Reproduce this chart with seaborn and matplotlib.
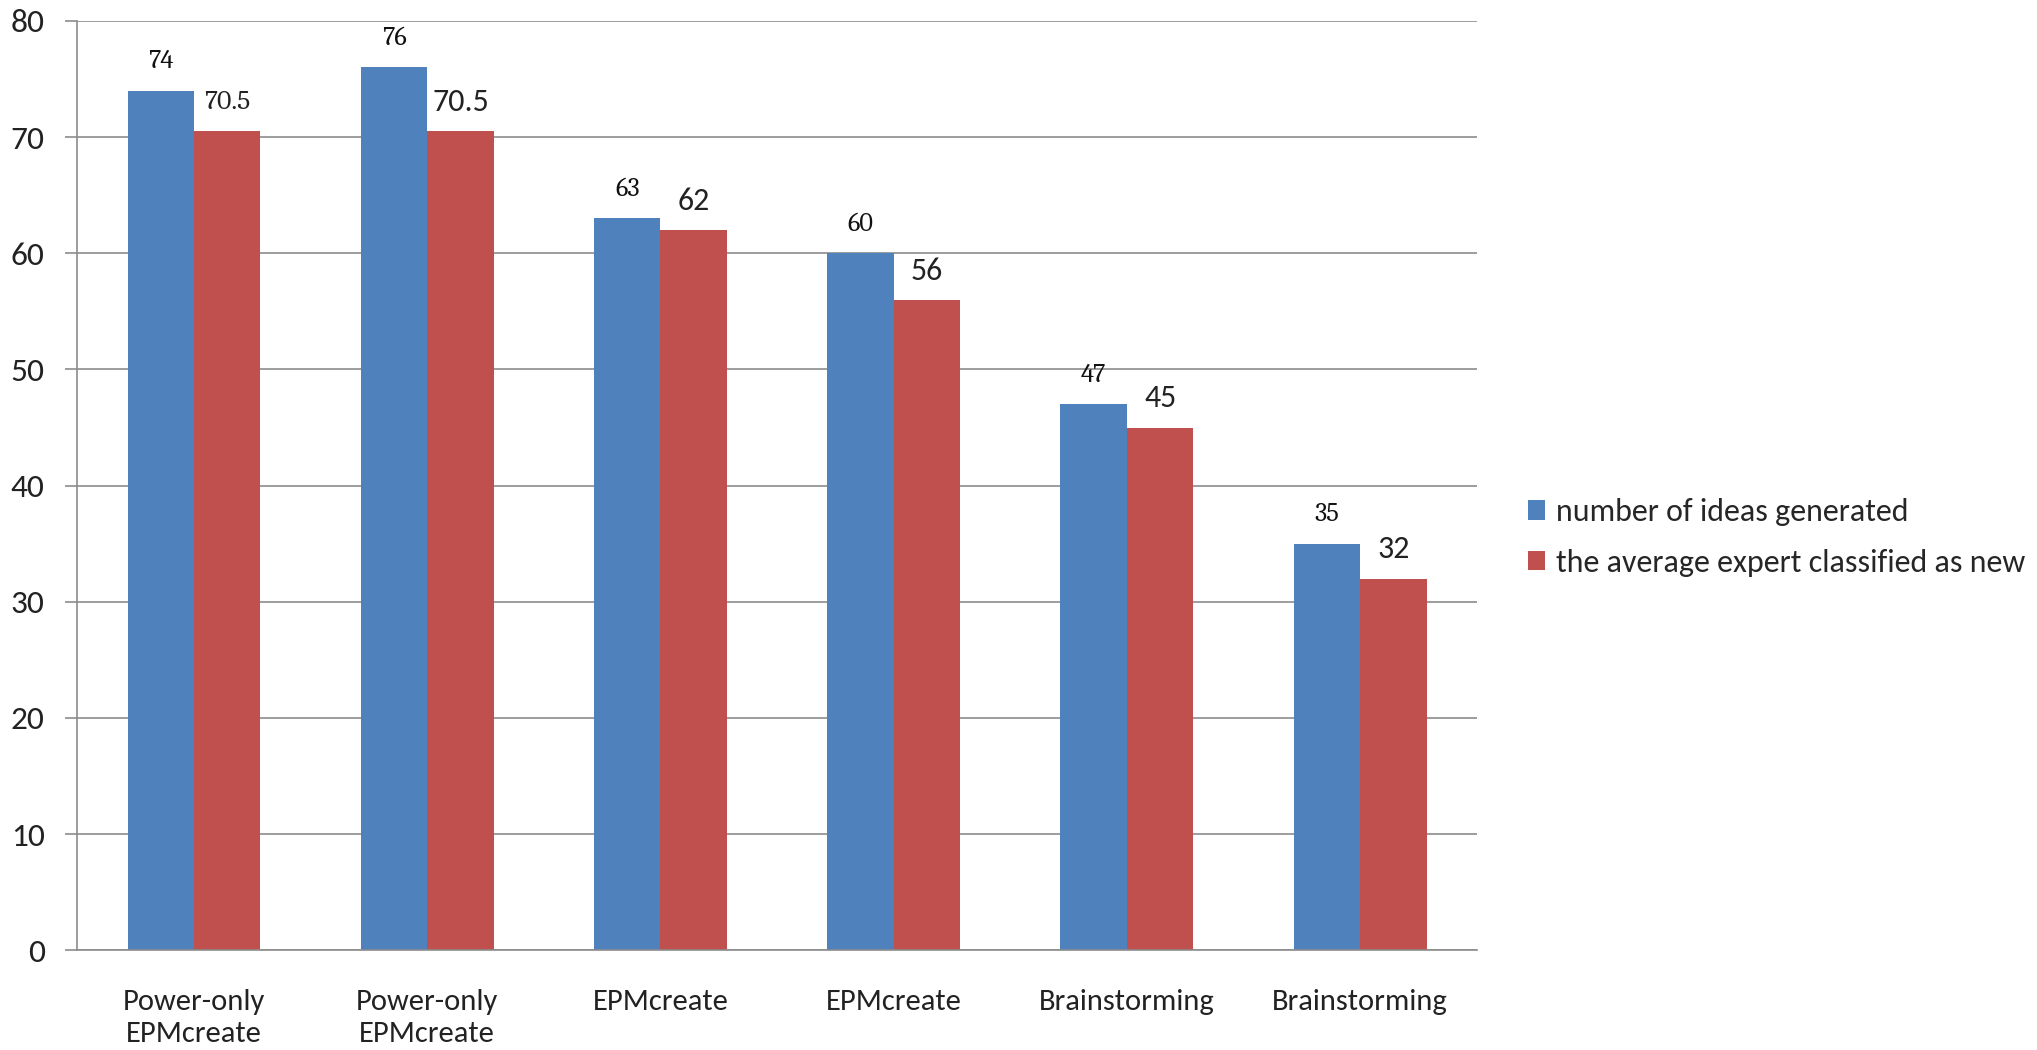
import matplotlib
matplotlib.use("Agg")
import matplotlib.pyplot as plt
import seaborn as sns
import pandas as pd
import numpy as np

sns.set_theme(style="white")
plt.rcParams['font.family'] = ['Carlito', 'DejaVu Sans']

# データ
categories = ["Power-only\nEPMcreate", "Power-only\nEPMcreate", "EPMcreate",
              "EPMcreate", "Brainstorming", "Brainstorming"]
ideas = [74, 76, 63, 60, 47, 35]
expert_new = [70.5, 70.5, 62, 56, 45, 32]
series_names = ["number of ideas generated", "the average expert classified as new"]
colors = ["#4F81BD", "#C0504D"]
yticks = [0, 10, 20, 30, 40, 50, 60, 70, 80]

pos = list(range(len(categories)))
df = pd.DataFrame({
    "group": [str(p) for p in pos] * 2,
    "value": ideas + expert_new,
    "series": [series_names[0]] * len(pos) + [series_names[1]] * len(pos),
})

fig = plt.figure(figsize=(20.37, 10.5), dpi=100)
ax = fig.add_axes([0.038, 0.095, 0.687, 0.885])

sns.barplot(data=df, x="group", y="value", hue="series", palette=colors,
            width=0.57, gap=0, saturation=1, ax=ax, legend=True,
            edgecolor="none")

ax.set_ylim(0, 80)
ax.set_xlim(-0.5, len(pos) - 0.5)
ax.set_yticks(yticks)
ax.yaxis.grid(True, color="#8c8c8c", lw=1.2)
ax.set_axisbelow(True)

ax.set_yticklabels([str(v) for v in yticks], fontsize=24, color="#222222")
ax.set_xticks(pos)
ax.set_xticklabels(categories, fontsize=22, color="#222222", linespacing=1.3)
ax.tick_params(axis="x", which="major", length=0, pad=28)
ax.set_xticks(np.arange(-0.5, len(pos), 1), minor=True)
ax.tick_params(axis="x", which="minor", length=7, color="#8c8c8c", width=1.2, direction="out")
ax.tick_params(axis="y", length=8.5, color="#8c8c8c", width=1.2, direction="out", pad=15, left=True)
ax.set_xlabel("")
ax.set_ylabel("")

for s in ["top", "right"]:
    ax.spines[s].set_visible(False)
for s in ["left", "bottom"]:
    ax.spines[s].set_color("#8c8c8c")
    ax.spines[s].set_linewidth(1.2)

# 値ラベル
serif = ['Caladea', 'Liberation Serif', 'DejaVu Serif']
blue_c, red_c = ax.containers[0], ax.containers[1]
for rect, v in zip(blue_c, ideas):
    ax.annotate(f"{v:g}", xy=(rect.get_x() + rect.get_width() / 2, v),
                xytext=(0, 21), textcoords="offset points", ha="center", va="center",
                fontsize=19, family=serif, color="#111111")
for i, (rect, v) in enumerate(zip(red_c, expert_new)):
    if i == 0:
        kw = dict(fontsize=20, family=serif)
    else:
        kw = dict(fontsize=23)
    ax.annotate(f"{v:g}", xy=(rect.get_x() + rect.get_width() / 2, v),
                xytext=(0, 21), textcoords="offset points", ha="center", va="center",
                color="#222222", **kw)

ax.legend(loc="center left", bbox_to_anchor=(0.750, 0.488), bbox_transform=fig.transFigure,
          frameon=False, borderpad=0, borderaxespad=0,
          fontsize=23, handlelength=0.55, handleheight=0.55, handletextpad=0.35,
          labelspacing=0.7)

fig.savefig("out.png", dpi=100)
